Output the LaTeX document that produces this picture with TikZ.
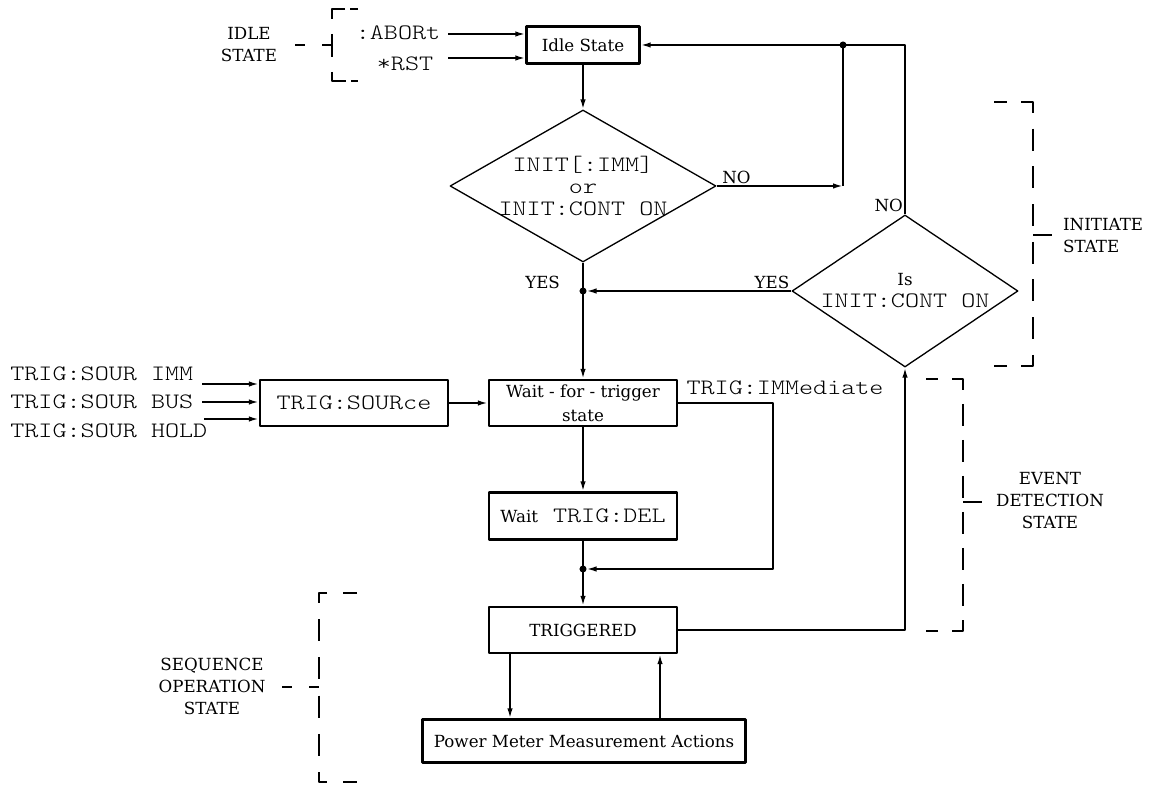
\documentclass[tikz,border=0pt]{standalone}
\usepackage{fontspec}
\setmainfont{DejaVu Serif}
\setmonofont{lmmonolt10-regular.otf}[FakeStretch=1.22]
\usetikzlibrary{arrows.meta,positioning,shapes.geometric,calc}
\newcommand{\scpi}[1]{{\fontsize{12.5}{12.5}\selectfont\ttfamily #1}}
\tikzset{
  stepbox/.style={draw,line width=1.4pt,minimum width=3.76cm,minimum height=0.92cm,
    inner sep=1pt,align=center},
  decision/.style={draw,diamond,line width=0.75pt,align=center,inner sep=-0.1cm},
  flow/.style={line width=1pt,-{Latex[length=2mm,width=1.1mm]}},
  wire/.style={line width=1pt},
  bracket/.style={line width=1.1pt},
  lead/.style={line width=1.1pt,dash pattern=on 0.2cm off 0.34cm},
  statetag/.style={inner sep=1pt,align=center},
  cmdtext/.style={inner sep=0pt,font=\fontsize{12.5}{12.5}\selectfont\ttfamily},
  dotnode/.style={circle,fill,inner sep=0pt,minimum size=4pt}
}

\begin{document}
\begin{tikzpicture}[x=1cm,y=1cm,font=\fontsize{9.5}{12.5}\selectfont,line join=round]
  \path[use as bounding box] (0,0) rectangle (23.12,15.70);

  % Idle state and the two INIT decisions
  \node[stepbox,minimum width=2.26cm,minimum height=0.74cm] (idle) at (11.66,14.80) {Idle State};
  \node[decision,aspect=1.75,minimum width=5.32cm,minimum height=3.04cm,
        font=\fontsize{12.5}{12.5}\selectfont\ttfamily] (initq) at (11.66,11.98)
    {INIT[:IMM]\\or\\INIT:CONT ON};
  \node[decision,aspect=1.49,minimum width=4.52cm,minimum height=3.04cm] (contq) at (18.10,9.88)
    {Is\\\scpi{INIT:CONT ON}};

  \node[cmdtext] (abort) at (7.96,15.04) {:ABORt};
  \node[cmdtext] (rst) at (8.10,14.42) {*RST};
  \coordinate (abortin) at (8.96,15.02);
  \coordinate (rstin) at (8.96,14.54);
  \draw[flow] (abortin) -- (abortin -| idle.west);
  \draw[flow] (rstin) -- (rstin -| idle.west);

  \node[statetag] (idlelbl) at (4.98,14.80) {IDLE\\STATE};
  \draw[bracket,dash pattern=on 0.16cm off 0.1cm on 0.46cm off 0.3cm on 0.46cm off 0.3cm
        on 0.46cm off 0.1cm on 0.16cm]
    (7.16,15.52) -- (6.64,15.52) -- (6.64,14.08) -- (7.16,14.08);
  \draw[lead] (5.90,14.80) -- (6.64,14.80);

  \coordinate (nocorner) at (16.86,11.98);
  \coordinate (topjoin) at (16.86,14.80);
  \draw[flow] (idle) -- (initq);
  \draw[flow] (initq.east) -- (nocorner);
  \draw[wire] (nocorner) -- (topjoin);
  \draw[flow] (contq.north) |- (idle.east);
  \node[dotnode] (topdot) at (topjoin) {};
  \node[statetag,anchor=south west] (noa) at ([xshift=2pt]initq.east) {NO};
  \node[statetag,anchor=south east] (nob) at (contq.north) {NO};

  % Wait for trigger
  \node[stepbox] (wait) at (11.66,7.64) {Wait - for - trigger\\[1pt]state};
  \coordinate (yesjoin) at (initq.south |- contq.west);
  \draw[flow] (initq.south) -- (wait.north);
  \draw[flow] (contq.west) -- ([xshift=2pt]yesjoin);
  \node[dotnode] (yesdot) at (yesjoin) {};
  \node[statetag,anchor=south east] (yesa) at ([xshift=-0.42cm]yesjoin) {YES};
  \node[statetag,anchor=south east] (yesb) at (contq.west) {YES};

  \node[stepbox,font=\fontsize{12.5}{12.5}\selectfont\ttfamily] (src) at (7.08,7.64) {TRIG:SOURce};
  \node[cmdtext,anchor=west] (srcimm) at (0.20,8.22) {TRIG:SOUR IMM};
  \node[cmdtext,anchor=west] (srcbus) at (0.20,7.66) {TRIG:SOUR BUS};
  \node[cmdtext,anchor=west] (srchold) at (0.20,7.08) {TRIG:SOUR HOLD};
  \coordinate (immin) at (4.04,8.02);
  \coordinate (busin) at (4.04,7.66);
  \coordinate (holdin) at (4.08,7.32);
  \draw[flow] (immin) -- (immin -| src.west);
  \draw[flow] (busin) -- (busin -| src.west);
  \draw[flow] (holdin) -- (holdin -| src.west);
  \draw[flow] (src) -- (wait);

  % Delay, trigger and measurement
  \node[stepbox,minimum height=0.94cm] (delay) at (11.66,5.38) {Wait\hspace{0.3cm}\scpi{TRIG:DEL}};
  \node[stepbox] (trig) at (11.66,3.10) {TRIGGERED};
  \node[stepbox,minimum width=6.46cm,minimum height=0.86cm] (pm) at (11.68,0.88)
    {Power Meter Measurement Actions};

  \coordinate (trigjoin) at (11.66,4.32);
  \coordinate (immcorner) at (15.46,7.64);
  \draw[flow] (wait) -- (delay);
  \draw[wire] (delay) -- (trigjoin);
  \draw[flow] (trigjoin) -- (trig);
  \node[dotnode] (trigdot) at (trigjoin) {};
  \draw[flow] (wait.east) -- (immcorner) |- ([xshift=2pt]trigjoin);
  \node[cmdtext,anchor=south west] (immlbl) at ([xshift=0.16cm,yshift=0.16cm]wait.east) {TRIG:IMMediate};
  \draw[flow] (trig.east) -| (contq.south);
  \draw[flow] ([xshift=-1.46cm]trig.south) -- ([xshift=-1.46cm]trig.south |- pm.north);
  \draw[flow] ([xshift=1.54cm]trig.south |- pm.north) -- ([xshift=1.54cm]trig.south);

  % State brackets
  \draw[bracket,dash pattern=on 0.26cm off 0.28cm on 0.46cm off 0.314cm on 0.44cm
        off 0.314cm on 0.44cm off 0.314cm on 0.44cm off 0.314cm on 0.44cm
        off 0.314cm on 0.44cm off 0.314cm on 0.44cm off 0.314cm on 0.46cm
        off 0.28cm on 0.26cm]
    (19.88,13.66) -- (20.66,13.66) -- (20.66,8.38) -- (19.88,8.38);
  \draw[wire] (20.66,11.00) -- (21.04,11.00);
  \node[statetag,anchor=west,align=left] (initlbl) at (21.22,10.98) {INITIATE\\STATE};

  \draw[bracket,dash pattern=on 0.24cm off 0.28cm on 0.44cm off 0.28cm on 0.44cm
        off 0.28cm on 0.44cm off 0.28cm on 0.44cm off 0.28cm on 0.44cm
        off 0.28cm on 0.44cm off 0.28cm on 0.44cm off 0.28cm on 0.44cm
        off 0.28cm on 0.24cm]
    (18.52,8.12) -- (19.26,8.12) -- (19.26,3.08) -- (18.52,3.08);
  \draw[wire] (19.26,5.66) -- (19.64,5.66);
  \node[statetag] (eventlbl) at (21.00,5.68) {EVENT\\DETECTION\\STATE};

  \draw[bracket,dash pattern=on 0.28cm off 0.32cm on 0.36cm off 0.324cm on 0.44cm
        off 0.324cm on 0.44cm off 0.324cm on 0.44cm off 0.324cm on 0.44cm
        off 0.324cm on 0.36cm off 0.32cm on 0.28cm]
    (7.14,3.84) -- (6.38,3.84) -- (6.38,0.06) -- (7.14,0.06);
  \draw[lead] (5.64,1.96) -- (6.38,1.96);
  \node[statetag] (seqlbl) at (4.24,1.98) {SEQUENCE\\OPERATION\\STATE};
\end{tikzpicture}
\end{document}
